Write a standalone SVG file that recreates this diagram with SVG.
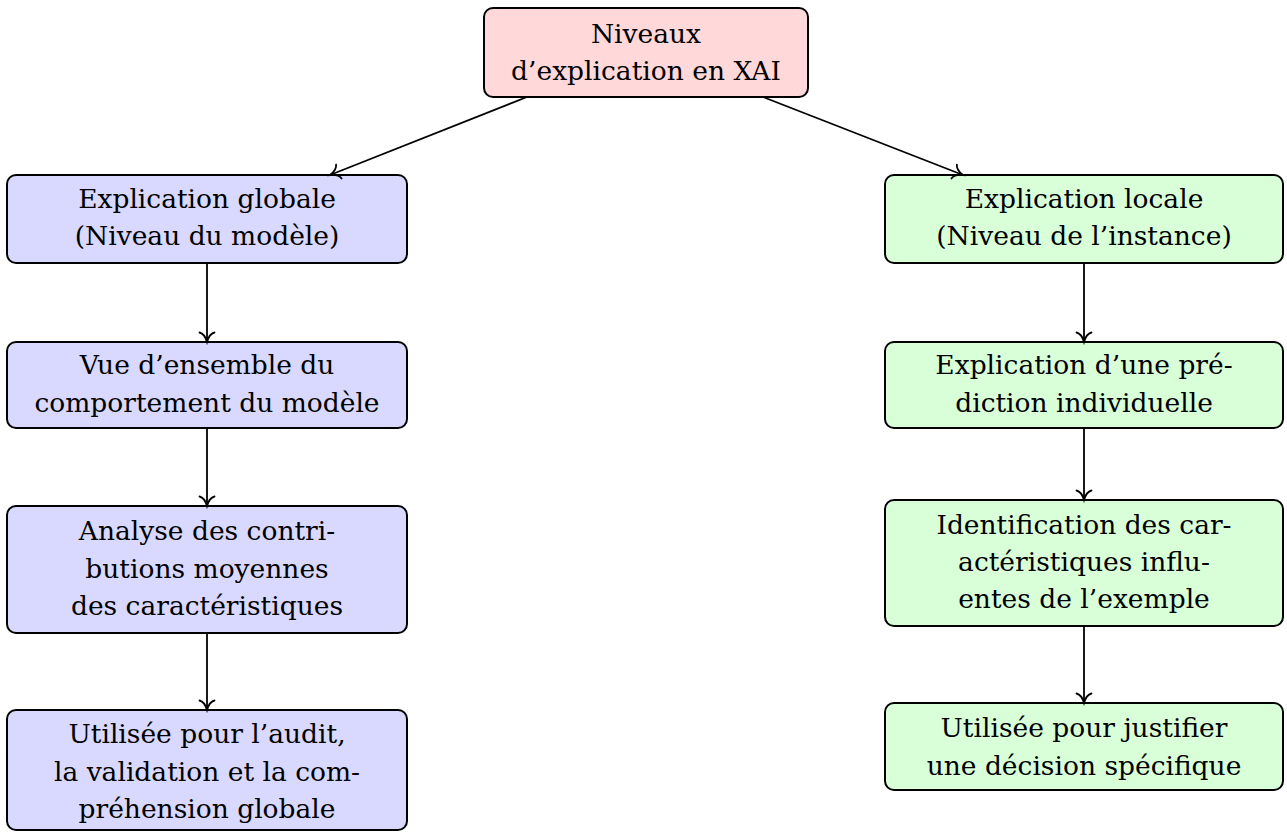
<svg xmlns="http://www.w3.org/2000/svg" width="1287" height="832" viewBox="0 0 1287 832">
  <style>
    .box { stroke: #000; stroke-width: 2; }
    .root { fill: #ffd9d9; }
    .glob { fill: #d9d9ff; }
    .loc { fill: #d9ffd9; }
    text { font-family: "DejaVu Serif", "Liberation Serif", serif; font-size: 26.5px; fill: #000; text-anchor: middle; }
    .edge { stroke: #000; stroke-width: 1.8; fill: none; marker-end: url(#tip); }
  </style>
  <defs>
    <!-- open curved arrow tip -->
    <marker id="tip" markerUnits="userSpaceOnUse" markerWidth="24" markerHeight="24" viewBox="-14 -12 16 24" refX="0" refY="0" orient="auto">
      <path d="M-9.5,-7.5 C-8.5,-3.2 -2.8,-0.8 0,0 C-2.8,0.8 -8.5,3.2 -9.5,7.5" fill="none" stroke="#000" stroke-width="1.8" stroke-linecap="round"/>
    </marker>
  </defs>

  <!-- root -->
  <g id="n-root">
    <rect class="box root" x="484" y="8" width="324" height="89" rx="9"/>
    <text x="646" y="43">Niveaux</text>
    <text x="646" y="80">d’explication en XAI</text>
  </g>

  <!-- global branch -->
  <g id="n-global">
    <rect class="box glob" x="7" y="175" width="400" height="88" rx="9"/>
    <text x="207" y="208">Explication globale</text>
    <text x="207" y="245">(Niveau du modèle)</text>
  </g>
  <g id="n-global-vue">
    <rect class="box glob" x="7" y="342" width="400" height="86" rx="9"/>
    <text x="207" y="374">Vue d’ensemble du</text>
    <text x="207" y="412">comportement du modèle</text>
  </g>
  <g id="n-global-analyse">
    <rect class="box glob" x="7" y="506" width="400" height="127" rx="9"/>
    <text x="207" y="540">Analyse des contri-</text>
    <text x="207" y="578">butions moyennes</text>
    <text x="207" y="615">des caractéristiques</text>
  </g>
  <g id="n-global-usage">
    <rect class="box glob" x="7" y="710" width="400" height="120" rx="9"/>
    <text x="207" y="743">Utilisée pour l’audit,</text>
    <text x="207" y="781">la validation et la com-</text>
    <text x="207" y="818">préhension globale</text>
  </g>

  <!-- local branch -->
  <g id="n-local">
    <rect class="box loc" x="885" y="175" width="398" height="88" rx="9"/>
    <text x="1084" y="208">Explication locale</text>
    <text x="1084" y="245">(Niveau de l’instance)</text>
  </g>
  <g id="n-local-pred">
    <rect class="box loc" x="885" y="342" width="398" height="86" rx="9"/>
    <text x="1084" y="374">Explication d’une pré-</text>
    <text x="1084" y="412">diction individuelle</text>
  </g>
  <g id="n-local-ident">
    <rect class="box loc" x="885" y="500" width="398" height="126" rx="9"/>
    <text x="1084" y="534">Identification des car-</text>
    <text x="1084" y="571">actéristiques influ-</text>
    <text x="1084" y="608">entes de l’exemple</text>
  </g>
  <g id="n-local-usage">
    <rect class="box loc" x="885" y="703" width="398" height="87" rx="9"/>
    <text x="1084" y="737">Utilisée pour justifier</text>
    <text x="1084" y="775">une décision spécifique</text>
  </g>

  <!-- connectors, drawn over the boxes so the tips stay visible -->
  <g id="connectors">
    <path class="edge" d="M527,97 L330,175"/>
    <path class="edge" d="M763,97 L963,175"/>
    <path class="edge" d="M207,263 L207,342"/>
    <path class="edge" d="M207,428 L207,506"/>
    <path class="edge" d="M207,633 L207,710"/>
    <path class="edge" d="M1084,263 L1084,342"/>
    <path class="edge" d="M1084,428 L1084,500"/>
    <path class="edge" d="M1084,626 L1084,703"/>
  </g>
</svg>
